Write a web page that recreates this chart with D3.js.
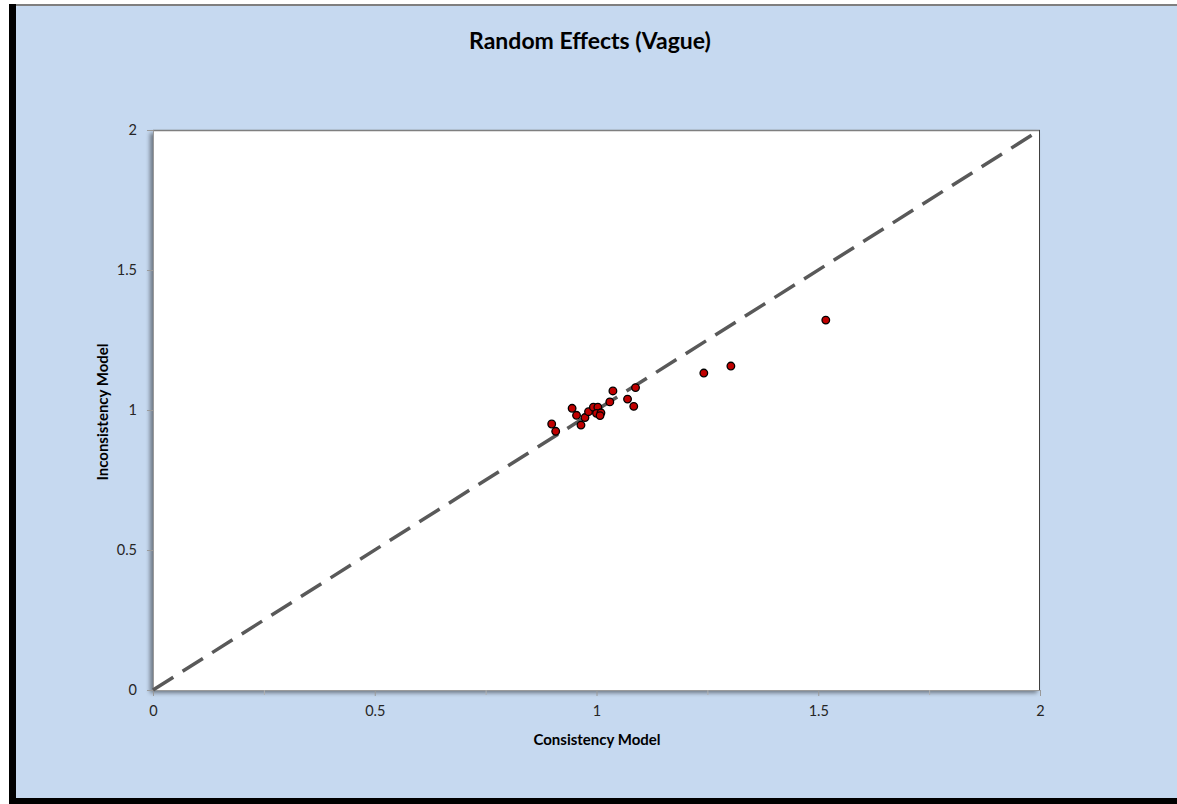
<!DOCTYPE html>
<html>
<head>
<meta charset="utf-8">
<script src="https://d3js.org/d3.v7.min.js"></script>
<style>
  * { margin:0; padding:0; }
  body { background:#fff; width:1177px; height:804px; overflow:hidden; }
  text { font-family: Lato, 'Open Sans', sans-serif; }
</style>
</head>
<body>
<svg id="chart" width="1177" height="804"></svg>
<script>
// Values
const consistency   = [0.899, 0.908, 0.945, 0.955, 0.965, 0.974, 0.982, 0.993, 1.003, 1.000, 1.010, 1.008,
                       1.030, 1.037, 1.070, 1.084, 1.088, 1.242, 1.303, 1.517];
const inconsistency = [0.950, 0.924, 1.006, 0.981, 0.946, 0.973, 0.994, 1.010, 1.010, 0.988, 0.990, 0.980,
                       1.029, 1.068, 1.039, 1.013, 1.080, 1.132, 1.157, 1.321];
const tickValues  = [0, 0.5, 1, 1.5, 2];
const tickLabels  = ["0", "0.5", "1", "1.5", "2"];
const minorTicks  = [0.25, 0.75, 1.25, 1.75];
const refLine     = [0, 2];

const svg = d3.select("#chart");

// ── Outer chart frame ───────────────────────────────────────────────
svg.append("rect").attr("x", 9).attr("y", 4).attr("width", 1168).attr("height", 800).attr("fill", "#000");
svg.append("rect").attr("x", 16).attr("y", 4).attr("width", 1161).attr("height", 3).attr("fill", "#7f7f7f");
svg.append("rect").attr("x", 16).attr("y", 6).attr("width", 1161).attr("height", 792).attr("fill", "#c6d9f0");

svg.append("text")
  .attr("x", 590).attr("y", 49)
  .attr("text-anchor", "middle")
  .style("font-size", "23px").style("font-weight", "bold").attr("fill", "#000")
  .text("Random Effects (Vague)");

// ── Plot area ───────────────────────────────────────────────────────
const L = 153, R = 1040, T = 130, B = 690;
const x = d3.scaleLinear().domain([0, 2]).range([L, R]);
const y = d3.scaleLinear().domain([0, 2]).range([B, T]);

const defs = svg.append("defs");
const f = defs.append("filter").attr("id", "shadow")
  .attr("x", "-5%").attr("y", "-5%").attr("width", "110%").attr("height", "110%");
f.append("feDropShadow").attr("dx", -3).attr("dy", 3).attr("stdDeviation", 2)
  .attr("flood-color", "#000").attr("flood-opacity", 0.45);

svg.append("rect")
  .attr("x", L).attr("y", T).attr("width", R - L).attr("height", B - T)
  .attr("fill", "#fff").attr("filter", "url(#shadow)");
svg.append("line").attr("x1", L).attr("x2", R).attr("y1", T + 0.5).attr("y2", T + 0.5)
  .attr("stroke", "#7f7f7f").attr("stroke-width", 1.5);
svg.append("line").attr("x1", R - 0.5).attr("x2", R - 0.5).attr("y1", T).attr("y2", B)
  .attr("stroke", "#404040").attr("stroke-width", 1);

// ── Axes ────────────────────────────────────────────────────────────
const xAxis = d3.axisBottom(x).tickValues(tickValues)
  .tickFormat((d, i) => tickLabels[i]).tickSize(6).tickPadding(10);
const gx = svg.append("g").attr("transform", `translate(0,${B})`).call(xAxis);
gx.select(".domain").attr("stroke", "#9a9a9a");
gx.selectAll(".tick line").attr("stroke", "#9a9a9a");
gx.selectAll("text").style("font-size", "14.5px").attr("fill", "#262626");
svg.append("g").attr("transform", `translate(0,${B})`)
  .call(d3.axisBottom(x).tickValues(minorTicks).tickSize(5).tickFormat(""))
  .call(g => g.select(".domain").remove())
  .selectAll("line").attr("stroke", "#b0b0b0");

const yAxis = d3.axisLeft(y).tickValues(tickValues)
  .tickFormat((d, i) => tickLabels[i]).tickSize(6).tickPadding(10);
const gy = svg.append("g").attr("transform", `translate(${L},0)`).call(yAxis);
gy.select(".domain").attr("stroke", "#9a9a9a");
gy.selectAll(".tick line").attr("stroke", "#9a9a9a");
gy.selectAll("text").style("font-size", "14.5px").attr("fill", "#262626");

svg.append("text")
  .attr("x", 597).attr("y", 745).attr("text-anchor", "middle")
  .style("font-size", "15px").style("font-weight", "bold").attr("fill", "#000")
  .text("Consistency Model");
svg.append("text")
  .attr("transform", "translate(108,412) rotate(-90)").attr("text-anchor", "middle")
  .style("font-size", "15px").style("font-weight", "bold").attr("fill", "#000")
  .text("Inconsistency Model");

// ── Line of equality ────────────────────────────────────────────────
svg.append("line")
  .attr("x1", x(refLine[0])).attr("y1", y(refLine[0]))
  .attr("x2", x(refLine[1])).attr("y2", y(refLine[1]))
  .attr("stroke", "#595959").attr("stroke-width", 3.5)
  .attr("stroke-dasharray", "24 11");

// ── Points ──────────────────────────────────────────────────────────
svg.append("g").selectAll("circle")
  .data(d3.range(consistency.length))
  .join("circle")
  .attr("cx", i => x(consistency[i]))
  .attr("cy", i => y(inconsistency[i]))
  .attr("r", 3.8)
  .attr("fill", "#c00000")
  .attr("stroke", "#000")
  .attr("stroke-width", 1.3);
</script>
</body>
</html>
